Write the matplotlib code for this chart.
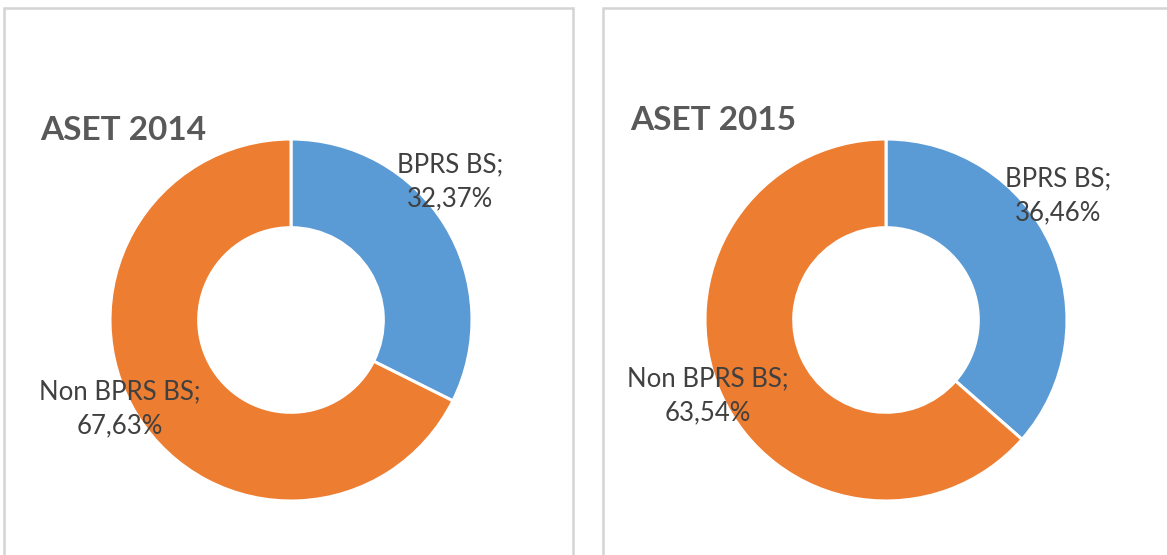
import matplotlib.pyplot as plt
from matplotlib.patches import Rectangle

# data
titles = ['ASET 2014', 'ASET 2015']
categories = ['BPRS BS', 'Non BPRS BS']
shares_2014 = [32.37, 67.63]
shares_2015 = [36.46, 63.54]
colors = ['#5B9BD5', '#ED7D31']

W, H = 1167, 555
fig = plt.figure(figsize=(W / 100, H / 100), dpi=100)
plt.rcParams['font.family'] = ['Lato', 'DejaVu Sans']

# panel frames (pixel coords from top-left)
for x0, x1 in [(4, 573), (603, 1175)]:
    fig.patches.append(Rectangle((x0 / W, -0.1), (x1 - x0) / W, (H - 8) / H + 0.1,
                                 transform=fig.transFigure, fill=False,
                                 edgecolor='#d4d4d4', linewidth=1.8))

def fmt(v):
    return f'{v:.2f}'.replace('.', ',') + '%'

# centre x, centre y, title pos, label pos (all pixels)
layout = [
    dict(cx=291, cy=320, title=(40, 130), lab=[(450, 182), (120, 409)]),
    dict(cx=886, cy=320, title=(630, 120), lab=[(1058, 196), (708, 396)]),
]
R = 181

for shares, title, lay in zip([shares_2014, shares_2015], titles, layout):
    cx, cy = lay['cx'], lay['cy']
    ax = fig.add_axes([(cx - R) / W, (H - cy - R) / H, 2 * R / W, 2 * R / H])
    ax.pie(shares, colors=colors, startangle=90, counterclock=False, radius=1,
           wedgeprops=dict(width=0.49, edgecolor='white', linewidth=2.2))
    ax.set_xlim(-1, 1)
    ax.set_ylim(-1, 1)
    ax.set_aspect('equal')
    ax.axis('off')

    tx, ty = lay['title']
    fig.text(tx / W, 1 - ty / H, title, fontsize=24, fontweight='bold',
             color='#595959', ha='left', va='center')
    for cat, val, (lx, ly) in zip(categories, shares, lay['lab']):
        fig.text(lx / W, 1 - ly / H, f'{cat};\n{fmt(val)}', fontsize=18.5,
                 color='#404040', ha='center', va='center', linespacing=1.45)

fig.savefig('out.png', dpi=100)
